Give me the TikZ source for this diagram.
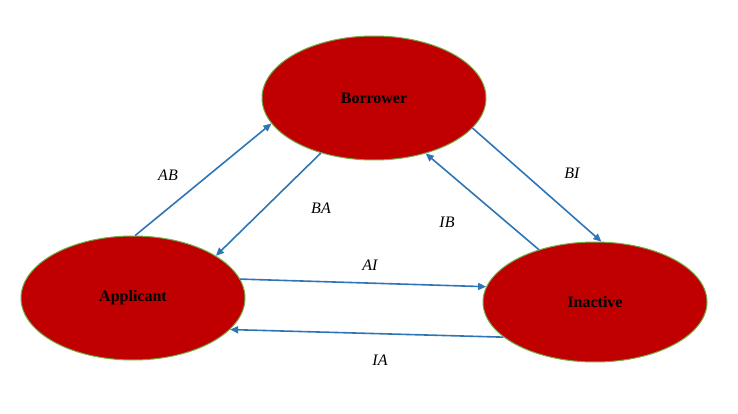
\documentclass[tikz,border=0pt]{standalone}
\usepackage{fontspec}
\setmainfont{Liberation Serif}
\usetikzlibrary{shapes.geometric,arrows.meta}
\definecolor{stateRed}{RGB}{192,0,0}
\definecolor{stateRim}{RGB}{112,173,71}
\definecolor{flowBlue}{RGB}{46,117,182}
\tikzset{
  state/.style={ellipse,draw=stateRim,line width=1pt,fill=stateRed,minimum width=224pt,minimum height=124pt,inner sep=0pt,font=\fontsize{16}{18}\selectfont\bfseries},
  flow/.style={draw=flowBlue,line width=1.6pt,-{Triangle[length=8pt,width=7pt]}},
  lbl/.style={font=\fontsize{16}{18}\selectfont\itshape}
}
\begin{document}
\begin{tikzpicture}[x=1pt,y=1pt,yscale=-1]
\useasboundingbox (0,0) rectangle (738,414);

\node[state] (bor) at (374,98) {Borrower};
\node[state] (app) at (133,298) {Applicant};
\node[state,minimum height=120pt] (ina) at (595,302) {Inactive};

\draw[flow] (app.88) -- (bor.194);
\draw[flow] (bor.226) -- (app.27);
\draw[flow] (app.10) -- (ina.172);
\draw[flow] (ina.201) -- (app.342);
\draw[flow] (ina.137) -- (bor.313);
\draw[flow] (bor.343) -- (ina.84);

\node[lbl] (lab) at (168,175) {AB};
\node[lbl] (lba) at (321,208) {BA};
\node[lbl] (lbi) at (572,173) {BI};
\node[lbl] (lib) at (447,222) {IB};
\node[lbl] (lai) at (370,265) {AI};
\node[lbl] (lia) at (380,360) {IA};

\end{tikzpicture}
\end{document}
